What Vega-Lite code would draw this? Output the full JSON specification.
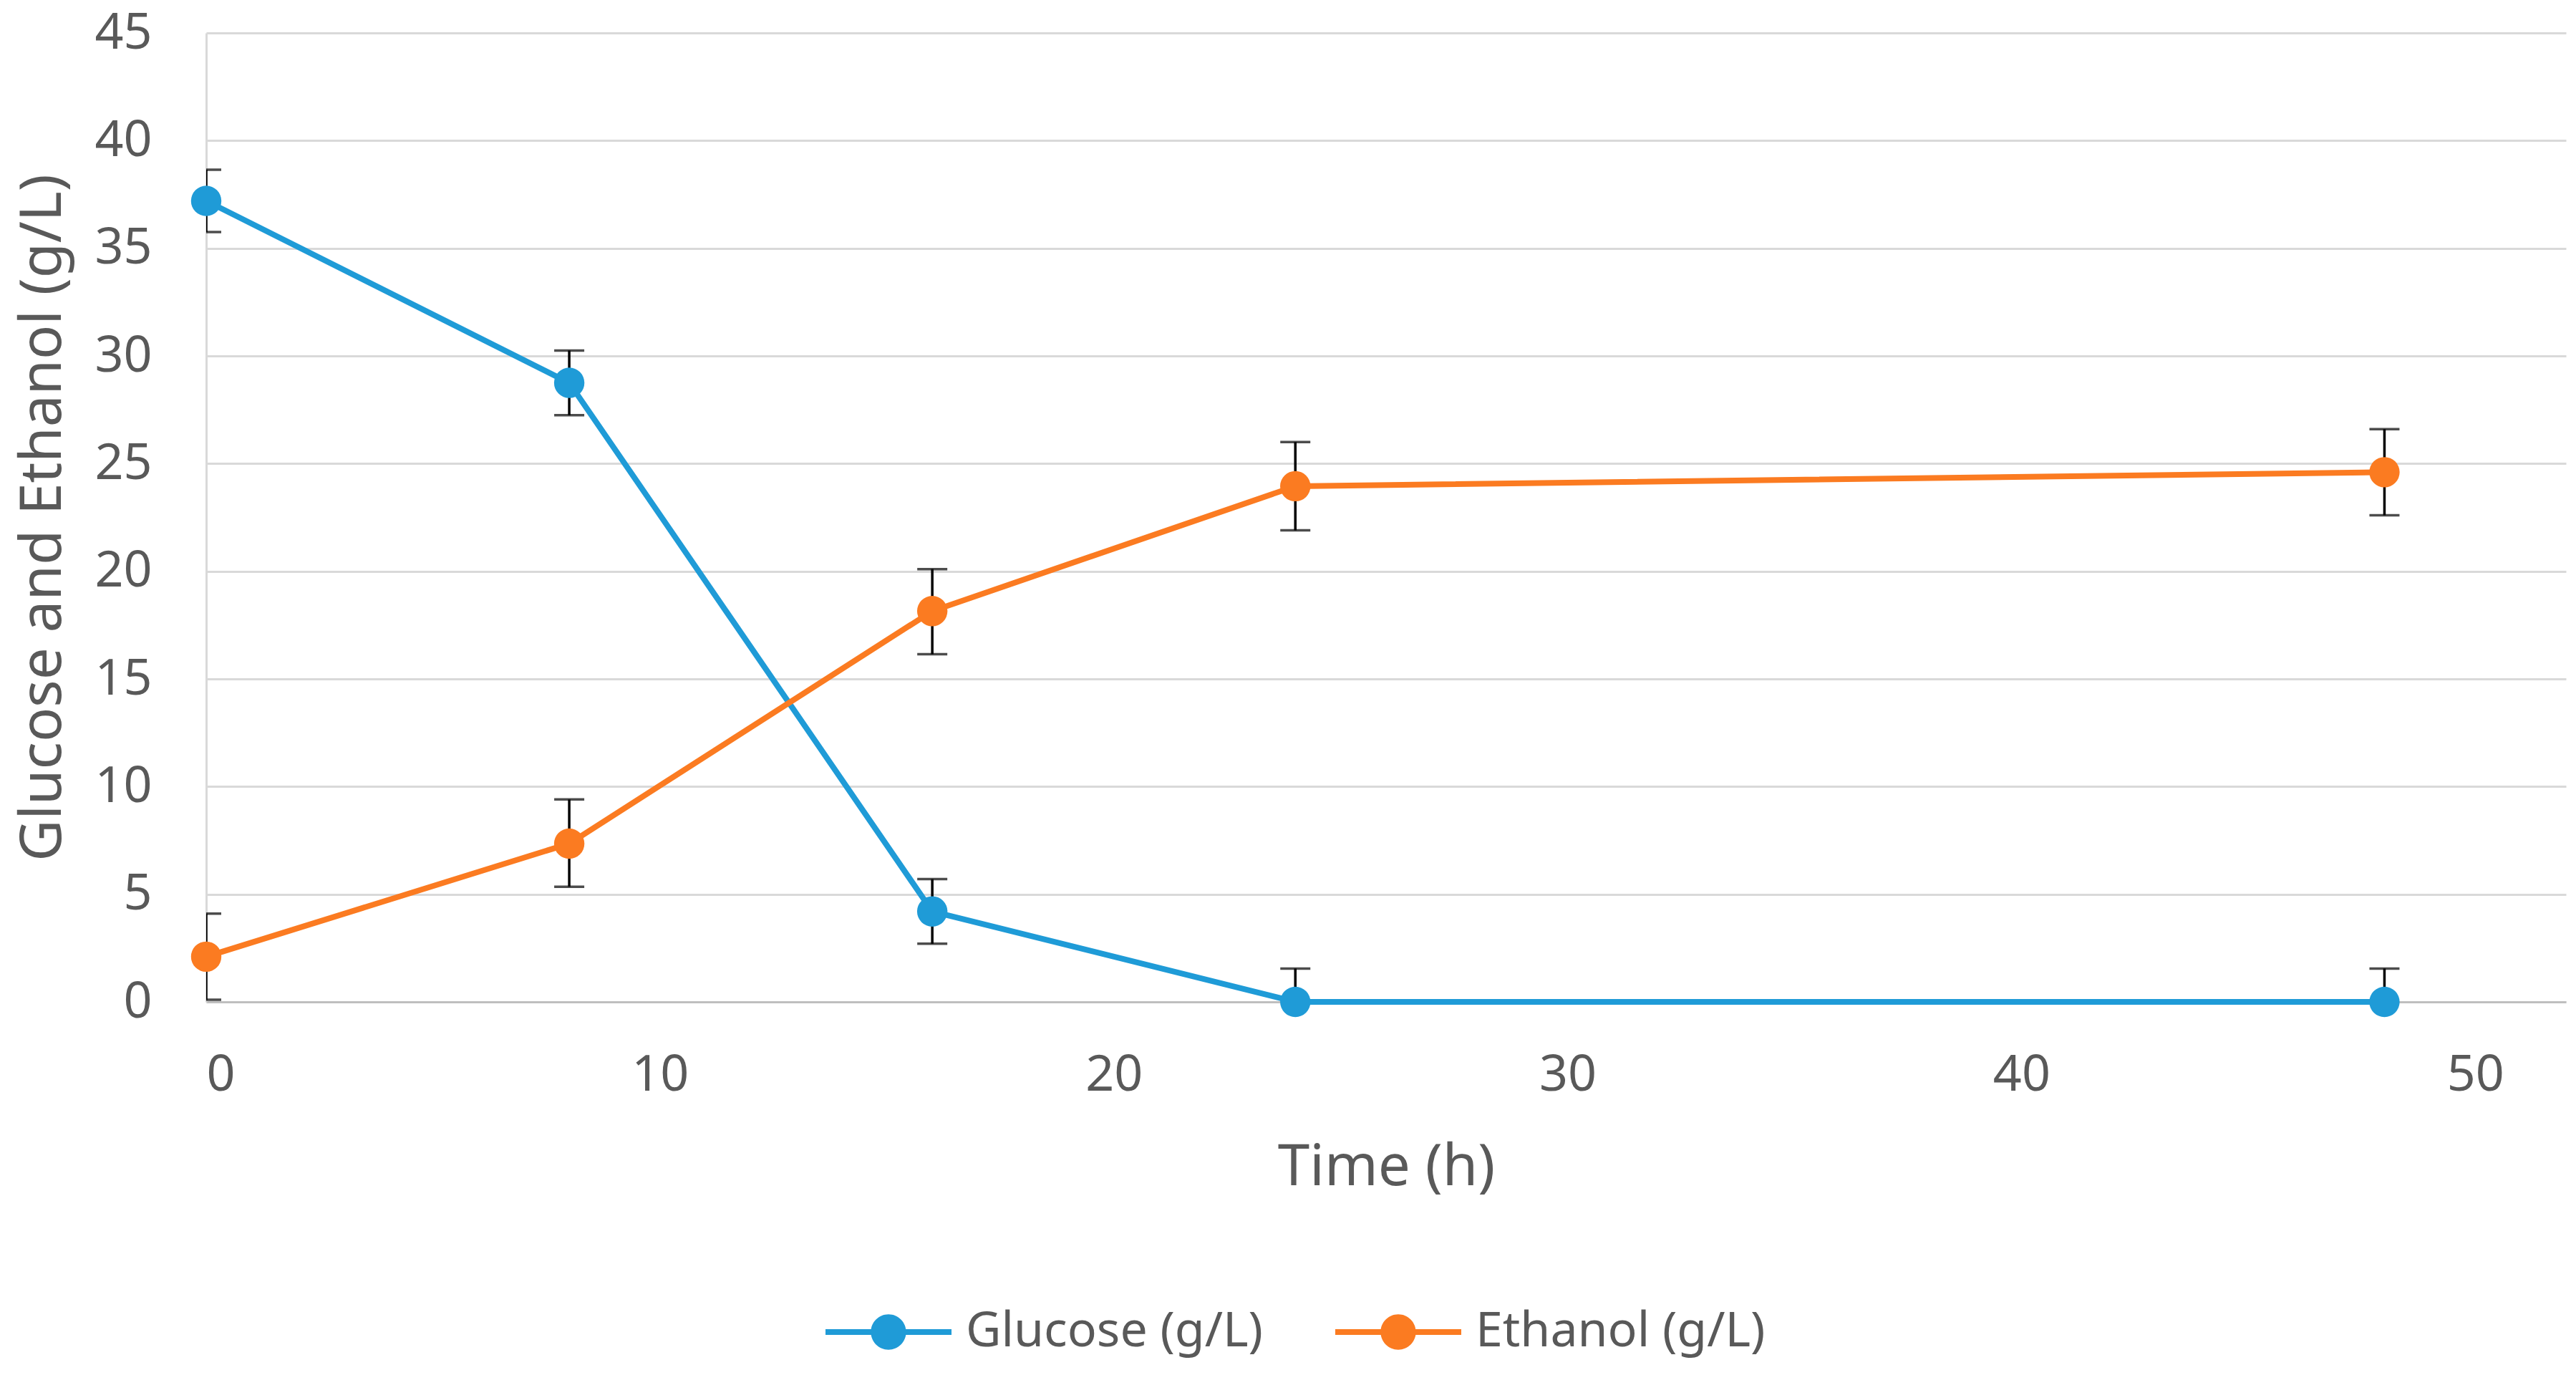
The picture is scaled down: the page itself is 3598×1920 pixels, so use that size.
{
  "$schema": "https://vega.github.io/schema/vega-lite/v6.json",
  "width": 3296,
  "height": 1353,
  "autosize": "none",
  "padding": {"left": 288, "top": 46, "right": 14, "bottom": 521},
  "background": "white",
  "data": {
    "values": [
      {"series": "Glucose (g/L)", "time": 0, "value": 37.2, "lo": 35.75, "hi": 38.65},
      {"series": "Glucose (g/L)", "time": 8, "value": 28.75, "lo": 27.25, "hi": 30.25},
      {"series": "Glucose (g/L)", "time": 16, "value": 4.2, "lo": 2.7, "hi": 5.7},
      {"series": "Glucose (g/L)", "time": 24, "value": 0, "lo": -1.55, "hi": 1.55},
      {"series": "Glucose (g/L)", "time": 48, "value": 0, "lo": -1.55, "hi": 1.55},
      {"series": "Ethanol (g/L)", "time": 0, "value": 2.1, "lo": 0.1, "hi": 4.1},
      {"series": "Ethanol (g/L)", "time": 8, "value": 7.35, "lo": 5.35, "hi": 9.4},
      {"series": "Ethanol (g/L)", "time": 16, "value": 18.15, "lo": 16.15, "hi": 20.1},
      {"series": "Ethanol (g/L)", "time": 24, "value": 23.95, "lo": 21.9, "hi": 26.0},
      {"series": "Ethanol (g/L)", "time": 48, "value": 24.6, "lo": 22.6, "hi": 26.6}
    ]
  },
  "encoding": {
    "x": {
      "field": "time",
      "type": "quantitative",
      "scale": {"domain": [0, 52], "nice": false, "zero": false},
      "axis": {
        "title": "Time (h)",
        "values": [0, 10, 20, 30, 40, 50],
        "grid": false,
        "ticks": false,
        "tickSize": 0,
        "labelPadding": 68,
        "domainColor": "#bfbfbf",
        "domainWidth": 3,
        "titleY": 255,
        "titleBaseline": "alphabetic"
      }
    }
  },
  "layer": [
    {
      "mark": {"type": "rule", "color": "black", "strokeWidth": 3.5, "clip": true},
      "encoding": {
        "y": {"field": "lo", "type": "quantitative"},
        "y2": {"field": "hi"}
      }
    },
    {
      "mark": {"type": "tick", "orient": "horizontal", "color": "black", "size": 42, "thickness": 3.5, "clip": true},
      "encoding": {"y": {"field": "hi", "type": "quantitative"}}
    },
    {
      "mark": {"type": "tick", "orient": "horizontal", "color": "black", "size": 42, "thickness": 3.5, "clip": true},
      "encoding": {"y": {"field": "lo", "type": "quantitative"}}
    },
    {
      "mark": {"type": "line", "strokeWidth": 8},
      "encoding": {
        "y": {"field": "value", "type": "quantitative"},
        "color": {"field": "series", "type": "nominal"}
      }
    },
    {
      "mark": {"type": "point", "filled": true, "opacity": 1, "size": 1800, "shape": "circle"},
      "encoding": {
        "y": {
          "field": "value",
          "type": "quantitative",
          "scale": {"domain": [0, 45], "nice": false},
          "axis": {
            "title": "Glucose and Ethanol (g/L)",
            "values": [0, 5, 10, 15, 20, 25, 30, 35, 40, 45],
            "ticks": false,
            "tickSize": 0,
            "labelPadding": 76,
            "domainColor": "#d9d9d9",
            "domainWidth": 3,
            "gridColor": "#d9d9d9",
            "gridWidth": 3,
            "titleX": -204,
            "titleBaseline": "alphabetic"
          }
        },
        "color": {
          "field": "series",
          "type": "nominal",
          "scale": {
            "domain": ["Glucose (g/L)", "Ethanol (g/L)"],
            "range": ["#1f9bd7", "#fb7b21"]
          },
          "legend": {
            "title": null,
            "orient": "none",
            "direction": "horizontal",
            "legendX": 865,
            "legendY": 1726,
            "symbolType": "M-1,-0.045L1,-0.045L1,0.045L-1,0.045Z M-0.28,0A0.28,0.28,0,1,1,0.28,0A0.28,0.28,0,1,1,-0.28,0Z",
            "symbolSize": 30976,
            "symbolStrokeWidth": 0,
            "labelOffset": 20,
            "columnPadding": 100,
            "padding": 0
          }
        }
      }
    }
  ],
  "config": {
    "font": "Noto Sans",
    "view": {"stroke": null},
    "axis": {
      "labelFont": "Noto Sans",
      "labelFontSize": 70,
      "labelColor": "#595959",
      "titleFont": "Noto Sans",
      "titleFontSize": 80,
      "titleFontWeight": "normal",
      "titleColor": "#595959"
    },
    "legend": {
      "labelFont": "Noto Sans",
      "labelFontSize": 68,
      "labelColor": "#595959",
      "labelLimit": 0
    }
  }
}
